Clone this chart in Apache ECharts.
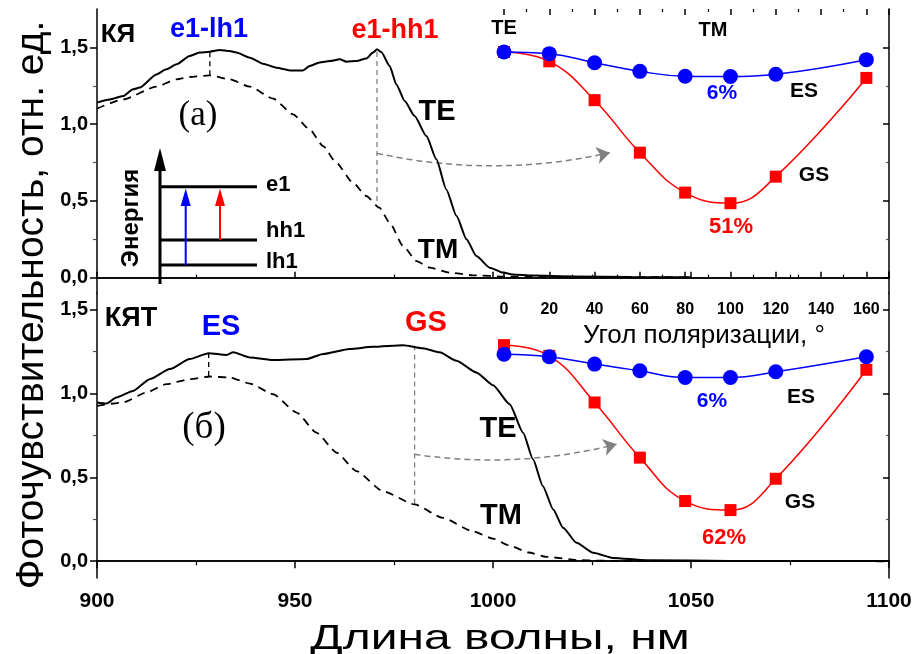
<!DOCTYPE html>
<html>
<head>
<meta charset="utf-8">
<script src="https://cdn.jsdelivr.net/npm/echarts@6/dist/echarts.min.js"></script>
<style>
  html, body { margin: 0; padding: 0; background: #fff; }
  #chart { width: 915px; height: 654px; }
</style>
</head>
<body>
<div id="chart"></div>
<script>
// ---- Quantum well (КЯ) spectra ----
const wlQwTE = [900.0, 903.2, 906.6, 909.1, 910.8, 915.0, 917.5, 920.1, 923.4, 925.9, 928.5, 931.0, 933.5, 935.2, 938.6, 941.9, 945.3, 948.7, 952.0, 953.7, 956.2, 958.8, 961.3, 963.0, 965.5, 968.0, 969.7, 970.7, 971.8, 973.9, 975.6, 977.7, 980.2, 983.2, 985.7, 988.2, 990.8, 993.3, 995.8, 999.2, 1002.5, 1005.0, 1010.0, 1020.0, 1035.0, 1050.0];
const qwTE   = [1.140, 1.161, 1.183, 1.227, 1.238, 1.324, 1.357, 1.390, 1.444, 1.466, 1.472, 1.483, 1.476, 1.466, 1.433, 1.394, 1.368, 1.350, 1.350, 1.379, 1.401, 1.411, 1.422, 1.407, 1.411, 1.427, 1.466, 1.487, 1.470, 1.379, 1.259, 1.151, 1.053, 0.922, 0.771, 0.575, 0.401, 0.250, 0.141, 0.065, 0.033, 0.021, 0.014, 0.008, 0.004, 0.002];
const wlQwTM = [900.0, 906.6, 915.0, 920.1, 923.4, 928.5, 933.5, 938.6, 944.5, 949.5, 953.7, 957.1, 960.4, 964.6, 968.0, 971.3, 973.9, 977.3, 980.7, 984.0, 989.1, 995.0, 1003.4, 1050.0];
const qwTM   = [1.101, 1.161, 1.244, 1.292, 1.307, 1.318, 1.292, 1.244, 1.166, 1.064, 0.966, 0.857, 0.749, 0.619, 0.532, 0.456, 0.358, 0.206, 0.108, 0.065, 0.033, 0.015, 0.007, 0.002];

// ---- Quantum well with dots (КЯТ) spectra ----
const wlQdTE = [900.0, 902.4, 904.9, 909.1, 913.3, 918.4, 923.4, 928.2, 932.7, 934.4, 938.6, 944.5, 952.9, 957.1, 963.8, 969.7, 977.3, 982.3, 986.5, 990.8, 995.8, 1000.0, 1004.2, 1007.6, 1010.1, 1012.6, 1015.2, 1017.7, 1021.1, 1025.3, 1030.3, 1038.7, 1060.0, 1100.0];
const qdTE   = [0.947, 0.941, 0.977, 1.016, 1.086, 1.146, 1.206, 1.241, 1.230, 1.246, 1.216, 1.200, 1.206, 1.236, 1.266, 1.279, 1.289, 1.271, 1.246, 1.196, 1.126, 1.050, 0.937, 0.767, 0.608, 0.448, 0.309, 0.200, 0.110, 0.050, 0.020, 0.006, 0.002, 0.001];
const wlQdTM = [900.0, 906.6, 912.5, 917.5, 923.4, 928.5, 933.5, 938.6, 944.5, 950.4, 955.4, 960.5, 965.5, 972.2, 980.2, 987.3, 994.9, 1000.0, 1004.0, 1009.0, 1013.4, 1021.9, 1032.0, 1100.0];
const qdTM   = [0.927, 0.947, 1.007, 1.056, 1.086, 1.102, 1.096, 1.060, 0.996, 0.887, 0.767, 0.648, 0.538, 0.418, 0.339, 0.259, 0.179, 0.135, 0.095, 0.052, 0.026, 0.006, 0.001, 0.0];

// ---- Polarization dependence (insets) ----
const angles   = [0, 20, 40, 60, 80, 100, 120, 160];
const qwES     = [1.470, 1.459, 1.400, 1.344, 1.312, 1.310, 1.325, 1.420];
const qwGS     = [1.470, 1.409, 1.156, 0.814, 0.554, 0.485, 0.658, 1.301];
const qdES     = [1.235, 1.220, 1.176, 1.136, 1.096, 1.096, 1.130, 1.220];
const qdGS     = [1.289, 1.225, 0.947, 0.618, 0.359, 0.305, 0.492, 1.142];
const angleTicks = [0, 20, 40, 60, 80, 100, 120, 140, 160];

// ---- Axis ticks ----
const yMajor = [0, 0.5, 1.0, 1.5];
const yMinor = [0.25, 0.75, 1.25];

// ---- Transition markers ----
const qwLh1 = 928.5, qwHh1 = 970.7;
const qdES_wl = 928.2, qdGS_wl = 980.2;

const pairs = (xs, ys) => xs.map((x, i) => [x, ys[i]]);
const FONT = 'Liberation Sans, Arial, sans-serif';
const comma = v => v.toFixed(1).replace('.', ',');

const chart = echarts.init(document.getElementById('chart'), null, { renderer: 'canvas' });

const grids = [
  { left: 97, right: 26, top: 9, height: 284 },     // panel (а)
  { left: 97, right: 26, top: 293, height: 285 },   // panel (б)
  { left: 504, right: 26, top: 9, height: 284 },    // inset (а)
  { left: 504, right: 26, top: 293, height: 285 }   // inset (б)
];

const axisLine = { show: true, lineStyle: { color: '#000', width: 1.5 } };
const noSplit = { show: false };

function nmAxis(grid, pos, opts) {
  return Object.assign({
    type: 'value', gridIndex: grid, position: pos, min: 900, max: 1100, interval: 50,
    axisLine: axisLine, splitLine: noSplit
  }, opts);
}
function yAxes(grid, max) {
  const base = { type: 'value', gridIndex: grid, min: -0.1, max: max, splitLine: noSplit };
  return [
    Object.assign({}, base, {
      position: 'left', axisLine: axisLine,
      axisTick: { show: true, length: 7, customValues: yMajor, lineStyle: { width: 1.5 } },
      axisLabel: { show: true, customValues: yMajor, formatter: comma, color: '#000',
                   fontFamily: FONT, fontWeight: 'bold', fontSize: 20, margin: 9 }
    }),
    Object.assign({}, base, {
      position: 'left', axisLine: { show: false },
      axisTick: { show: true, length: 4, customValues: yMinor, lineStyle: { width: 1.2 } },
      axisLabel: { show: false }
    }),
    Object.assign({}, base, {
      position: 'right', axisLine: axisLine,
      axisTick: { show: true, inside: true, length: 6, customValues: yMajor, lineStyle: { width: 1.5 } },
      axisLabel: { show: false }
    }),
    Object.assign({}, base, {
      position: 'right', axisLine: { show: false },
      axisTick: { show: true, inside: true, length: 3, customValues: yMinor, lineStyle: { width: 1.2 } },
      axisLabel: { show: false }
    })
  ];
}

const xAxes = [
  // 0: panel (а) bottom, ticks inward
  nmAxis(0, 'bottom', {
    axisTick: { show: true, inside: true, length: 6, lineStyle: { width: 1.5 } },
    minorTick: { show: true, splitNumber: 2, length: 3, lineStyle: { color: '#000', width: 1.2 } },
    axisLabel: { show: false }
  }),
  // 1: panel (а) top border
  nmAxis(0, 'top', { axisTick: { show: false }, axisLabel: { show: false } }),
  // 2: panel (б) bottom, labelled
  nmAxis(1, 'bottom', {
    axisTick: { show: true, length: 7, lineStyle: { width: 1.5 } },
    minorTick: { show: true, splitNumber: 2, length: 4, lineStyle: { color: '#000', width: 1.2 } },
    axisLabel: { show: true, color: '#000', fontFamily: FONT, fontWeight: 'bold', fontSize: 21, margin: 13,
                 formatter: v => String(v) }
  }),
  // 3: panel (б) top border
  nmAxis(1, 'top', { axisTick: { show: false }, axisLabel: { show: false } }),
  // 4: inset (а) angle axis, bottom
  {
    type: 'value', gridIndex: 2, position: 'bottom', min: 0, max: 170, interval: 20,
    splitLine: noSplit, axisLine: { show: false },
    axisTick: { show: true, inside: true, length: 6, lineStyle: { color: '#000', width: 1.5 } },
    minorTick: { show: true, splitNumber: 2, length: 3, lineStyle: { color: '#000', width: 1.2 } },
    axisLabel: { show: true, customValues: angleTicks, color: '#000', fontFamily: FONT,
                 fontWeight: 'bold', fontSize: 16, margin: 9, formatter: v => String(v) }
  },
  // 5: inset (а) angle axis, top mirror
  {
    type: 'value', gridIndex: 2, position: 'top', min: 0, max: 170, interval: 20,
    splitLine: noSplit, axisLine: { show: false },
    axisTick: { show: true, inside: true, length: 6, lineStyle: { color: '#000', width: 1.5 } },
    minorTick: { show: true, splitNumber: 2, length: 3, lineStyle: { color: '#000', width: 1.2 } },
    axisLabel: { show: false }
  },
  // 6: inset (б) angle axis (hidden)
  { type: 'value', gridIndex: 3, min: 0, max: 170, show: false, splitLine: noSplit }
];

const yAxesAll = [].concat(
  yAxes(0, 1.75),   // 0..3
  yAxes(1, 1.6),    // 4..7
  [{ type: 'value', gridIndex: 2, min: -0.1, max: 1.75, show: false, splitLine: noSplit },   // 8
   { type: 'value', gridIndex: 3, min: -0.1, max: 1.6, show: false, splitLine: noSplit }]    // 9
);

function spectrum(xi, yi, data, dashed) {
  return {
    type: 'line', xAxisIndex: xi, yAxisIndex: yi, data: data, showSymbol: false, symbol: 'none',
    smooth: 0.2, smoothMonotone: 'x', silent: true, z: 3,
    lineStyle: { color: '#000', width: dashed ? 1.8 : 2, type: dashed ? [8, 6] : 'solid' }
  };
}
function marker(xi, yi, wl, y0, y1, color) {
  return {
    type: 'line', xAxisIndex: xi, yAxisIndex: yi, data: [[wl, y0], [wl, y1]],
    showSymbol: false, symbol: 'none', silent: true, z: 2,
    lineStyle: { color: color, width: 1.3, type: [5, 4] }
  };
}
function polar(xi, yi, ys, color, sym, size, z) {
  return {
    type: 'line', xAxisIndex: xi, yAxisIndex: yi, data: pairs(angles, ys),
    smooth: 0.45, symbol: sym, symbolSize: size, showSymbol: true, silent: true, z: z,
    itemStyle: { color: color }, lineStyle: { color: color, width: 1.5 }, clip: false
  };
}
function arrow(xi, yi, from, to, curv) {
  return {
    type: 'lines', coordinateSystem: 'cartesian2d', xAxisIndex: xi, yAxisIndex: yi,
    symbol: ['none', 'arrow'], symbolSize: [0, 13], silent: true, z: 2,
    lineStyle: { color: '#808080', width: 1.5, type: [6, 4], curveness: curv, opacity: 1 },
    data: [{ coords: [from, to] }]
  };
}

const series = [
  spectrum(0, 0, pairs(wlQwTM, qwTM), true),
  spectrum(0, 0, pairs(wlQwTE, qwTE), false),
  marker(0, 0, qwLh1, 1.318, 1.472, '#000'),
  marker(0, 0, qwHh1, 0.50, 1.487, '#808080'),
  arrow(0, 0, [qwHh1, 0.81], [1029.5, 0.814], -0.11),

  spectrum(2, 4, pairs(wlQdTM, qdTM), true),
  spectrum(2, 4, pairs(wlQdTE, qdTE), false),
  marker(2, 4, qdES_wl, 1.105, 1.241, '#000'),
  marker(2, 4, qdGS_wl, 0.345, 1.285, '#808080'),
  arrow(2, 4, [qdGS_wl, 0.638], [1031.2, 0.698], -0.1),

  polar(4, 8, qwGS, '#ff0000', 'rect', 12, 5),
  polar(4, 8, qwES, '#0000ff', 'circle', 15, 6),
  polar(6, 9, qdGS, '#ff0000', 'rect', 12, 5),
  polar(6, 9, qdES, '#0000ff', 'circle', 15, 6)
];

function txt(x, y, s, size, color, opts) {
  return Object.assign({
    type: 'text', x: x, y: y, silent: true, z: 50,
    style: Object.assign({
      text: s, fill: color || '#000', fontFamily: FONT, fontWeight: 'bold', fontSize: size,
      align: 'center', verticalAlign: 'middle'
    }, (opts && opts.style) || {})
  }, (opts && opts.el) || {});
}

// Energy-level scheme in panel (а)
const scheme = [
  { type: 'line', shape: { x1: 160, y1: 284, x2: 160, y2: 168 }, style: { stroke: '#000', lineWidth: 3 } },
  { type: 'polygon', shape: { points: [[160, 148], [154, 171], [166, 171]] }, style: { fill: '#000' } },
  { type: 'line', shape: { x1: 160, y1: 186.7, x2: 257, y2: 186.7 }, style: { stroke: '#000', lineWidth: 3 } },
  { type: 'line', shape: { x1: 160, y1: 240, x2: 257, y2: 240 }, style: { stroke: '#000', lineWidth: 3 } },
  { type: 'line', shape: { x1: 160, y1: 265, x2: 257, y2: 265 }, style: { stroke: '#000', lineWidth: 3 } },
  { type: 'line', shape: { x1: 185.7, y1: 265, x2: 185.7, y2: 200 }, style: { stroke: '#0000ff', lineWidth: 2 } },
  { type: 'polygon', shape: { points: [[185.7, 188.5], [180.7, 206], [190.7, 206]] }, style: { fill: '#0000ff' } },
  { type: 'line', shape: { x1: 220, y1: 240, x2: 220, y2: 200 }, style: { stroke: '#ff0000', lineWidth: 2 } },
  { type: 'polygon', shape: { points: [[220, 188.5], [215, 206], [225, 206]] }, style: { fill: '#ff0000' } }
].map(e => Object.assign({ silent: true, z: 40 }, e));

const SERIF = 'Liberation Serif, Times New Roman, serif';
const labels = [
  // panel (а)
  txt(118, 35, 'КЯ', 26),
  txt(209, 30, 'e1-lh1', 27, '#0000ff'),
  txt(395, 31, 'e1-hh1', 27, '#ff0000'),
  txt(198, 116, '(а)', 35, '#000', { style: { fontFamily: SERIF, fontWeight: 'normal' } }),
  txt(437, 112, 'TE', 29),
  txt(438, 250, 'TM', 28),
  txt(504, 28, 'TE', 20),
  txt(713, 30, 'TM', 20),
  txt(722, 93, '6%', 21, '#0000ff'),
  txt(804, 91, 'ES', 21),
  txt(814, 175, 'GS', 21),
  txt(731, 227, '51%', 22, '#ff0000'),
  txt(266, 185, 'e1', 22, '#000', { style: { align: 'left' } }),
  txt(266, 231, 'hh1', 22, '#000', { style: { align: 'left' } }),
  txt(266, 262, 'lh1', 22, '#000', { style: { align: 'left' } }),
  txt(131, 218, 'Энергия', 24, '#000', { el: { rotation: Math.PI / 2 } }),
  // panel (б)
  txt(131, 319, 'КЯТ', 27),
  txt(221, 327, 'ES', 29, '#0000ff'),
  txt(426, 323, 'GS', 29, '#ff0000'),
  txt(204, 428, '(б)', 37, '#000', { style: { fontFamily: SERIF, fontWeight: 'normal' } }),
  txt(498, 429, 'TE', 29),
  txt(501, 516, 'TM', 29),
  txt(704, 336, 'Угол поляризации, °', 26, '#000', { style: { fontWeight: 'normal' } }),
  txt(712, 401, '6%', 21, '#0000ff'),
  txt(801, 397, 'ES', 21),
  txt(800, 502, 'GS', 21),
  txt(724, 538, '62%', 22, '#ff0000'),
  // axis titles
  txt(500, 639, 'Длина волны, нм', 35, '#000', { style: { fontWeight: 'normal' }, el: { scaleX: 1.37 } }),
  txt(32, 305, 'Фоточувствительность, отн. ед.', 39, '#000', { style: { fontWeight: 'normal' }, el: { rotation: Math.PI / 2 } })
];

chart.setOption({
  animation: false,
  backgroundColor: '#fff',
  grid: grids,
  xAxis: xAxes,
  yAxis: yAxesAll,
  series: series,
  graphic: { elements: scheme.concat(labels) }
});
</script>
</body>
</html>
